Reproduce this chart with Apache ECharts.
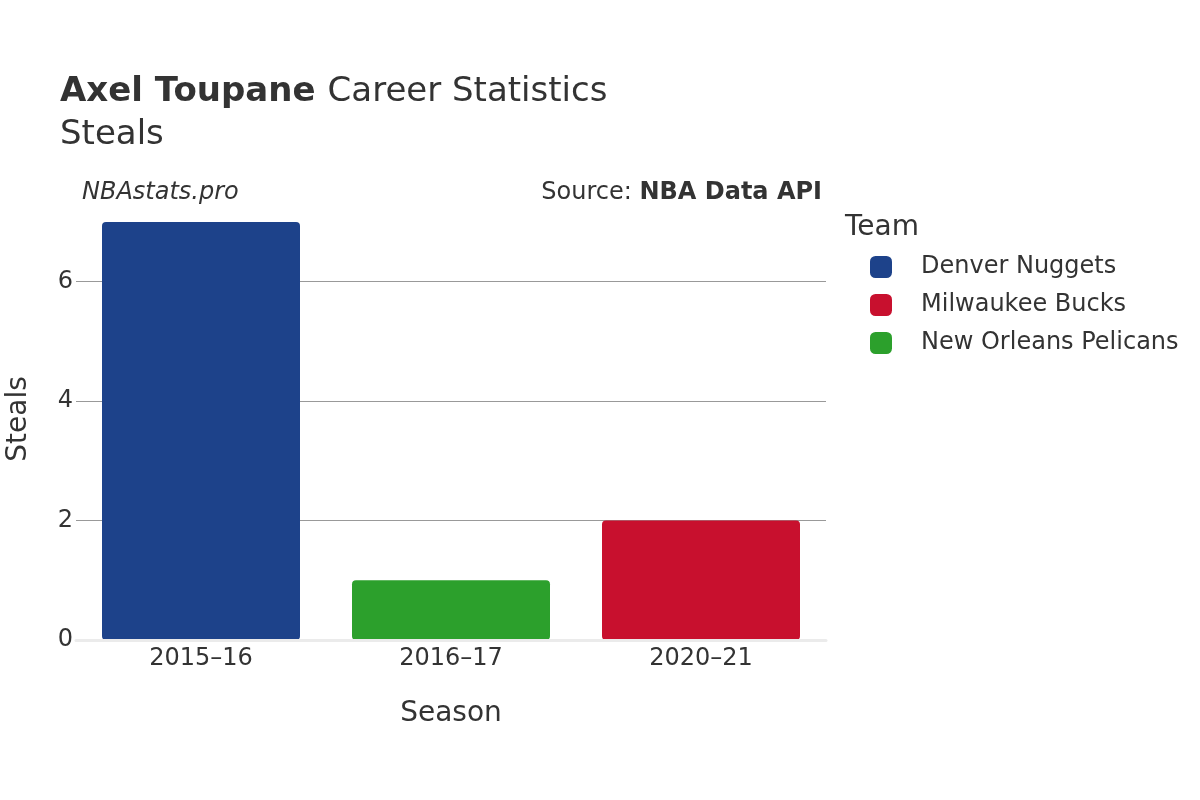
<!DOCTYPE html>
<html>
<head>
<meta charset="utf-8">
<script src="https://cdn.jsdelivr.net/npm/echarts@6/dist/echarts.min.js"></script>
<style>
  html, body { margin: 0; padding: 0; background: #fff; }
  #chart { width: 1200px; height: 800px; }
</style>
</head>
<body>
<div id="chart"></div>
<script>
// data
var seasons = ['2015–16', '2016–17', '2020–21'];
var teams = ['Denver Nuggets', 'Milwaukee Bucks', 'New Orleans Pelicans'];
var denverSteals = [7, null, null];
var milwaukeeSteals = [null, null, 2];
var pelicansSteals = [null, 1, null];
var yTicks = [0, 2, 4, 6];

var teamColors = ['#1d428a', '#c8102e', '#2ca02c'];
var font = 'DejaVu Sans, sans-serif';

var chart = echarts.init(document.getElementById('chart'));

function barSeries(name, values, color) {
  return {
    name: name,
    type: 'bar',
    stack: 'steals',
    barWidth: 198,
    data: values,
    itemStyle: { color: color, borderRadius: 4 }
  };
}

var option = {
  animation: false,
  textStyle: { fontFamily: font },
  title: {
    left: 55,
    top: 66,
    text: '{b|Axel Toupane}{s| }{n|Career Statistics}\n{n|Steals}',
    textStyle: {
      fontWeight: 'normal',
      rich: {
        b: { fontFamily: font, fontSize: 34, fontWeight: 'bold', color: '#333', lineHeight: 43 },
        n: { fontFamily: font, fontSize: 34, fontWeight: 'normal', color: '#333', lineHeight: 43 },
        s: { width: 12, lineHeight: 43 }
      }
    }
  },
  legend: {
    orient: 'vertical',
    left: 865,
    top: 250,
    itemWidth: 22,
    itemHeight: 22,
    itemGap: 14,
    icon: 'roundRect',
    data: teams,
    textStyle: { fontFamily: font, fontSize: 24, color: '#333', padding: [0, 0, 0, 24] }
  },
  graphic: [
    { type: 'text', left: 845, top: 214, style: { text: 'Team', font: '28px ' + font, fill: '#333' } },
    { type: 'text', left: 82, top: 181, style: { text: 'NBAstats.pro', font: 'italic 24px ' + font, fill: '#333' } },
    {
      type: 'text', right: 378, top: 181,
      style: {
        text: '{n|Source: }{b|NBA Data API}',
        rich: {
          n: { font: '24px ' + font, fill: '#333' },
          b: { font: 'bold 24px ' + font, fill: '#333' }
        }
      }
    },
    {
      type: 'text', x: 19, y: 419, rotation: Math.PI / 2,
      style: { text: 'Steals', font: '28px ' + font, fill: '#333', align: 'center', verticalAlign: 'middle' }
    }
  ],
  grid: { left: 76, right: 374, top: 222, bottom: 160, containLabel: false, outerBoundsMode: 'none' },
  xAxis: {
    type: 'category',
    data: seasons,
    name: 'Season',
    nameLocation: 'middle',
    nameGap: 60,
    nameTextStyle: { fontFamily: font, fontSize: 28, color: '#333' },
    axisTick: { show: false },
    axisLine: { show: true, lineStyle: { color: '#ebebeb', width: 3 } },
    axisLabel: { fontFamily: font, fontSize: 24, color: '#333', margin: 7 },
    z: 5
  },
  yAxis: {
    type: 'value',
    min: 0,
    max: 7,
    interval: 2,
    axisLine: { show: false },
    axisTick: { show: false, customValues: yTicks },
    axisLabel: {
      fontFamily: font, fontSize: 24, color: '#333', margin: 3,
      customValues: yTicks
    },
    splitLine: { show: true, lineStyle: { color: '#999', width: 1 } }
  },
  series: [
    barSeries(teams[0], denverSteals, teamColors[0]),
    barSeries(teams[1], milwaukeeSteals, teamColors[1]),
    barSeries(teams[2], pelicansSteals, teamColors[2])
  ]
};

chart.setOption(option);
</script>
</body>
</html>
